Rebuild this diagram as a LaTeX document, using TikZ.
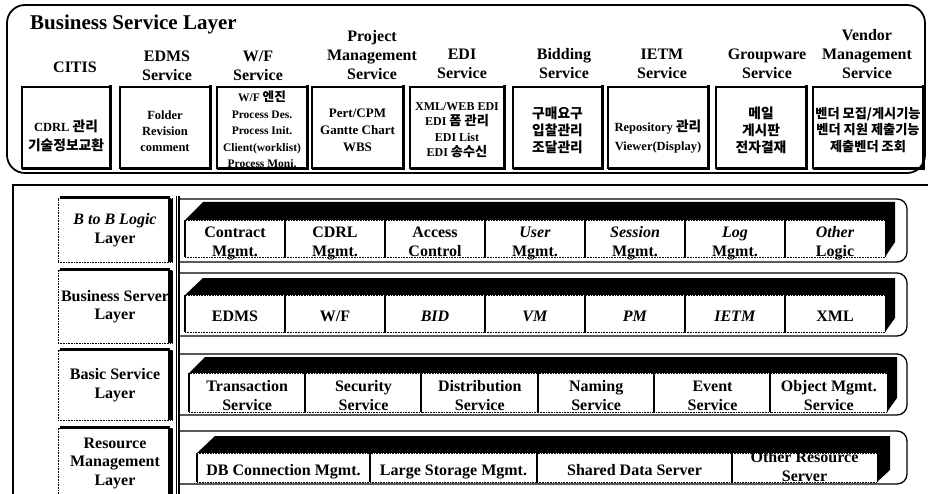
\documentclass[tikz,border=0pt]{standalone}
\usepackage{fontspec}
\setmainfont{Liberation Serif}
\newfontfamily\kr{Noto Sans CJK KR}[Scale=1.1]
\newcommand\K[1]{{\kr\bfseries #1}}
\begin{document}
\begin{tikzpicture}[x=1pt,y=-1pt,
  hdr/.style={font=\fontsize{16}{19}\selectfont\bfseries, align=center, inner sep=0},
  tbox/.style={draw, line width=1.4pt, minimum height=81, inner sep=0},
  boxtxt/.style={font=\fontsize{12.5}{16}\selectfont\bfseries, align=center, inner sep=0},
  cell/.style={draw, densely dotted, line width=0.6pt, fill=white, inner sep=0,
    font=\fontsize{16}{19}\selectfont\bfseries, align=center, text height=17pt, text depth=1pt},
  celltwo/.style={cell, text height=36pt},
  sep/.style={line width=2pt},
  shadow/.style={line width=3.2pt},
  lbl/.style={draw, densely dotted, line width=0.6pt, inner sep=0, minimum width=114,
    font=\fontsize{16}{18.5}\selectfont\bfseries, align=center},
  rowbox/.style={line width=1.3pt, rounded corners=10}]
\useasboundingbox (0,0) rectangle (928,494);

% ---------- Business Service Layer ----------
\draw[line width=1.8pt, rounded corners=18] (7,5) rectangle (925,173);
\node[anchor=west, inner sep=0, font=\fontsize{21}{24}\selectfont\bfseries] (title) at (30,24) {Business Service Layer};

\node[hdr] (h1) at (75,67) {CITIS};
\node[hdr] (h2) at (167,66) {EDMS\\Service};
\node[hdr] (h3) at (258,66) {W/F\\Service};
\node[hdr] (h4) at (372,55) {Project\\Management\\Service};
\node[hdr] (h5) at (462,64) {EDI\\Service};
\node[hdr] (h6) at (564,64) {Bidding\\Service};
\node[hdr] (h7) at (662,64) {IETM\\Service};
\node[hdr] (h8) at (767,64) {Groupware\\Service};
\node[hdr] (h9) at (867,54) {Vendor\\Management\\Service};

\node[tbox, minimum width=88] (b1) at (66,127.5) {};
\node[tbox, minimum width=90] (b2) at (165,127.5) {};
\node[tbox, minimum width=90] (b3) at (262,127.5) {};
\node[tbox, minimum width=91] (b4) at (357.5,127.5) {};
\node[tbox, minimum width=94] (b5) at (457,127.5) {};
\node[tbox, minimum width=89] (b6) at (557.5,127.5) {};
\node[tbox, minimum width=100] (b7) at (658,127.5) {};
\node[tbox, minimum width=90] (b8) at (761,127.5) {};
\node[tbox, minimum width=110] (b9) at (868,127.5) {};
\foreach \b in {b1,b2,b3,b4,b5,b6,b7,b8,b9}
  \draw[shadow] ([yshift=1]\b.north east) -- (\b.south east) -- ([xshift=1]\b.south west);

\node[boxtxt, font=\fontsize{12.5}{19}\selectfont\bfseries] (t1) at (66,136) {CDRL \K{관리}\\\K{기술정보교환}};
\node[boxtxt] (t2) at (165,131) {Folder\\Revision\\comment};
\node[boxtxt, font=\fontsize{11.5}{16.5}\selectfont\bfseries] (t3) at (262,129.5) {W/F \K{엔진}\\Process Des.\\Process Init.\\Client(worklist)\\Process Moni.};
\node[boxtxt, font=\fontsize{13}{17}\selectfont\bfseries] (t4) at (357.5,130) {Pert/CPM\\Gantte Chart\\WBS};
\node[boxtxt, font=\fontsize{12}{15.5}\selectfont\bfseries] (t5) at (457,130) {XML/WEB EDI\\EDI \K{폼 관리}\\EDI List\\EDI \K{송수신}};
\node[boxtxt, font=\fontsize{12.5}{17}\selectfont\kr\bfseries] (t6) at (557.5,130) {구매요구\\입찰관리\\조달관리};
\node[boxtxt, font=\fontsize{12.5}{19}\selectfont\bfseries] (t7) at (658,137) {Repository \K{관리}\\Viewer(Display)};
\node[boxtxt, font=\fontsize{12.5}{17}\selectfont\kr\bfseries] (t8) at (761,130) {메일\\게시판\\전자결재};
\node[boxtxt, font=\fontsize{12}{16.5}\selectfont\kr\bfseries] (t9) at (868,130) {벤더 모집/게시기능\\벤더 지원 제출기능\\제출벤더 조회};

% ---------- lower frame ----------
\begin{scope}
\clip (0,0) rectangle (928,494);
\draw[line width=1.5pt] (13,500) -- (13,185) -- (935,185);
\draw[line width=1.3pt] (179,196) -- (179,500);
\draw[line width=0.8pt] (176,196) -- (176,500);

% row containers
\draw[rowbox] (179,199) -- (907,199) -- (907,262) -- (179,262);
\draw[rowbox] (179,273) -- (907,273) -- (907,336) -- (179,336);
\draw[rowbox] (179,354) -- (907,354) -- (907,415) -- (179,415);
\draw[rowbox] (179,431) -- (907,431) -- (907,484) -- (179,484);

% layer labels
\node[lbl, minimum height=64] (L1) at (115,230) {\textit{B to B Logic}\\Layer};
\node[lbl, minimum height=73] (L2) at (115,306.5) {Business Server\\Layer};
\node[lbl, minimum height=70] (L3) at (115,385) {Basic Service\\Layer};
\node[lbl, minimum height=70] (L4) at (115,463) {Resource\\Management\\Layer};
\foreach \l in {L1,L2,L3,L4}
  \draw[line width=3pt, rounded corners=2] ([xshift=2]\l.north west) -- ([xshift=-2]\l.north east);
\foreach \l in {L1,L2,L3,L4}
  \draw[line width=5pt] ([xshift=-1.5,yshift=-1]\l.north east) -- ([xshift=-1.5]\l.south east);

% row 1 : B to B logic
\fill (185,220) -- (203,202) -- (895,202) -- (895,242) -- (885,257) -- (885,220) -- cycle;
\node[celltwo, minimum width=100, minimum height=37] (c11) at (235,238.5) {Contract\\Mgmt.};
\node[celltwo, minimum width=100, minimum height=37] (c12) at (335,238.5) {CDRL\\Mgmt.};
\node[celltwo, minimum width=100, minimum height=37] (c13) at (435,238.5) {Access\\Control};
\node[celltwo, minimum width=100, minimum height=37] (c14) at (535,238.5) {\textit{User}\\Mgmt.};
\node[celltwo, minimum width=100, minimum height=37] (c15) at (635,238.5) {\textit{Session}\\Mgmt.};
\node[celltwo, minimum width=100, minimum height=37] (c16) at (735,238.5) {\textit{Log}\\Mgmt.};
\node[celltwo, minimum width=100, minimum height=37] (c17) at (835,238.5) {\textit{Other}\\Logic};

% row 2 : business server
\fill (185,295) -- (203,278) -- (895,278) -- (895,318) -- (885,332) -- (885,295) -- cycle;
\node[cell, minimum width=100, minimum height=37] (c21) at (235,313.5) {EDMS};
\node[cell, minimum width=100, minimum height=37] (c22) at (335,313.5) {W/F};
\node[cell, minimum width=100, minimum height=37] (c23) at (435,313.5) {\textit{BID}};
\node[cell, minimum width=100, minimum height=37] (c24) at (535,313.5) {\textit{VM}};
\node[cell, minimum width=100, minimum height=37] (c25) at (635,313.5) {\textit{PM}};
\node[cell, minimum width=100, minimum height=37] (c26) at (735,313.5) {\textit{IETM}};
\node[cell, minimum width=100, minimum height=37] (c27) at (835,313.5) {XML};

% row 3 : basic service
\fill (189,373) -- (205,357) -- (897,357) -- (897,398) -- (887,412) -- (887,373) -- cycle;
\node[celltwo, minimum width=116.3, minimum height=39] (c31) at (247.2,392.5) {Transaction\\Service};
\node[celltwo, minimum width=116.3, minimum height=39] (c32) at (363.5,392.5) {Security\\Service};
\node[celltwo, minimum width=116.3, minimum height=39] (c33) at (479.8,392.5) {Distribution\\Service};
\node[celltwo, minimum width=116.3, minimum height=39] (c34) at (596.2,392.5) {Naming\\Service};
\node[celltwo, minimum width=116.3, minimum height=39] (c35) at (712.5,392.5) {Event\\Service};
\node[celltwo, minimum width=116.3, minimum height=39] (c36) at (828.8,392.5) {Object Mgmt.\\Service};

% row 4 : resource management
\fill (197,453) -- (215,436) -- (890,436) -- (890,470) -- (877,482) -- (877,453) -- cycle;
\node[cell, minimum width=173, minimum height=29] (c41) at (283.5,467.5) {DB Connection Mgmt.};
\node[cell, minimum width=167, minimum height=29] (c42) at (453.5,467.5) {Large Storage Mgmt.};
\node[cell, minimum width=195, minimum height=29] (c43) at (634.5,467.5) {Shared Data Server};
\node[draw, densely dotted, line width=0.6pt, fill=white, minimum width=145, minimum height=29] (c44) at (804.5,467.5) {};
\node[inner sep=0, font=\fontsize{16}{19}\selectfont\bfseries, align=center] (c44t) at (804.5,467) {Other Resource\\Server};

% separators between cells
\foreach \c in {c11,c12,c13,c14,c15,c16,c17,c21,c22,c23,c24,c25,c26,c27,c31,c32,c33,c34,c35,c36,c41,c42,c43,c44}
  \draw[sep] (\c.north west) -- (\c.south west);
\end{scope}
\end{tikzpicture}
\end{document}
